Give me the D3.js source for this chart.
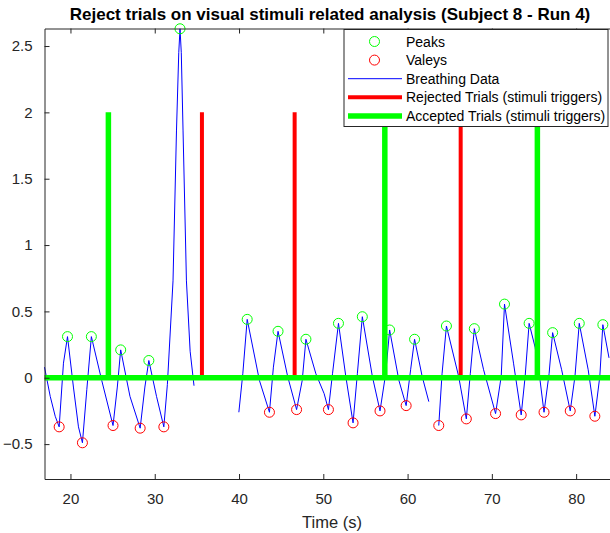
<!DOCTYPE html>
<html>
<head>
<meta charset="utf-8">
<script src="https://cdn.jsdelivr.net/npm/d3@7/dist/d3.min.js"></script>
<style>
  html, body { margin: 0; padding: 0; background: #fff; }
  svg { display: block; font-family: "Liberation Sans", Arial, sans-serif; }
</style>
</head>
<body>
<svg id="chart" width="610" height="533"></svg>
<script>
// Breathing signal (time in s, amplitude); null marks a gap in the recording
const breathTime = [
  16.92, 17.6, 18.19, 18.66, 19.17, 19.65, 20.35, 20.95, 21.42, 21.94, 22.48,
  23.71, 25.05, 25.56, 25.96, 27.06, 28.27, 28.83, 29.30, 30.21, 31.08, 31.5,
  32.17, 32.58, 32.85, 33.0, 33.15, 33.36, 33.76, 34.2, 34.66,
  null,
  39.98, 40.45, 40.97, 42.42, 43.61, 44.08, 44.63, 45.77, 46.83, 47.5, 47.94,
  49.12, 50.1, 50.61, 51.09, 51.80, 52.67, 53.53, 54.04, 54.63, 55.82, 56.73,
  57.4, 57.87, 58.97, 59.83, 60.36, 60.83, 61.73, 62.52,
  null,
  63.70, 64.09, 64.61, 66.06, 66.97, 67.44, 67.92, 69.02, 70.44, 71.11, 71.50,
  72.57, 73.48, 73.95, 74.42, 75.13, 75.72, 76.19, 76.79, 77.21, 78.28, 79.30,
  79.86, 80.37, 81.43, 82.22, 82.81, 83.17, 83.9
];
const breathValue = [
  0.08, -0.14, -0.29, -0.37, 0.11, 0.31, -0.07, -0.37, -0.49, -0.09, 0.31,
  -0.02, -0.36, -0.07, 0.21, -0.14, -0.38, -0.07, 0.13, -0.14, -0.37, -0.05,
  0.73, 1.86, 2.45, 2.63, 2.45, 1.86, 0.73, 0.2, -0.06,
  null,
  -0.26, 0.03, 0.44, -0.02, -0.26, 0.08, 0.35, 0.01, -0.24, -0.02, 0.29,
  0.03, -0.12, -0.24, 0.03, 0.41, 0.01, -0.34, 0.03, 0.46, 0.01, -0.25,
  0.03, 0.36, -0.02, -0.21, 0.06, 0.29, 0.01, -0.18,
  null,
  -0.36, 0.03, 0.39, 0.01, -0.31, 0.03, 0.37, 0.06, -0.27, 0.01, 0.555,
  0.11, -0.28, 0.01, 0.41, 0.23, -0.02, -0.26, 0.03, 0.34, 0.06, -0.25,
  0.01, 0.41, 0.06, -0.29, 0.01, 0.40, 0.15
];

// Detected peaks and valleys
const peakTime   = [19.65, 22.48, 25.96, 29.30, 33.0, 40.97, 44.63, 47.94, 51.80, 54.63, 57.87, 60.83, 64.61, 67.92, 71.50, 74.42, 77.21, 80.37, 83.17];
const peakValue  = [0.31, 0.31, 0.21, 0.13, 2.63, 0.44, 0.35, 0.29, 0.41, 0.46, 0.36, 0.29, 0.39, 0.37, 0.555, 0.41, 0.34, 0.41, 0.40];
const valleyTime  = [18.66, 21.42, 25.05, 28.27, 31.08, 43.61, 46.83, 50.61, 53.53, 56.73, 59.83, 63.70, 66.97, 70.44, 73.48, 76.19, 79.30, 82.22];
const valleyValue = [-0.37, -0.49, -0.36, -0.38, -0.37, -0.26, -0.24, -0.24, -0.34, -0.25, -0.21, -0.36, -0.31, -0.27, -0.28, -0.26, -0.25, -0.29];

// Stimulus triggers
const rejectedTriggers = [35.6, 46.6, 66.3];
const acceptedTriggers = [24.5, 57.3, 75.4];
const triggerLevel = 2;

const xTicks = [20, 30, 40, 50, 60, 70, 80];
const yTicks = [-0.5, 0, 0.5, 1, 1.5, 2, 2.5];
const xDomain = [16.92, 84.2];
const yDomain = [-0.763, 2.632];

const legendLabels = ["Peaks", "Valeys", "Breathing Data", "Rejected Trials (stimuli triggers)", "Accepted Trials (stimuli triggers)"];

const svg = d3.select("#chart");
const plot = { left: 44.5, top: 28.5, bottom: 479 };
const x = d3.scaleLinear().domain(xDomain).range([plot.left, plot.left + (xDomain[1] - xDomain[0]) * 8.428]);
const y = d3.scaleLinear().domain(yDomain).range([plot.bottom, plot.top]);
const axisColor = "#262626";

// Title
svg.append("text")
  .attr("x", 330).attr("y", 20)
  .attr("text-anchor", "middle")
  .attr("font-size", "17px").attr("font-weight", "bold")
  .attr("fill", "#000")
  .text("Reject trials on visual stimuli related analysis (Subject 8 - Run 4)");

// Breathing line
const breath = breathTime.map((t, i) => ({ t, v: breathValue[i] }));
svg.append("path")
  .datum(breath)
  .attr("fill", "none")
  .attr("stroke", "#0000ff")
  .attr("stroke-width", 1)
  .attr("d", d3.line().defined(d => d.t !== null && d.v !== null).x(d => x(d.t)).y(d => y(d.v)));

// Peak and valley markers
svg.append("g").selectAll("circle")
  .data(peakTime.map((t, i) => ({ t, v: peakValue[i] })))
  .join("circle")
  .attr("cx", d => x(d.t)).attr("cy", d => y(d.v)).attr("r", 5)
  .attr("fill", "none").attr("stroke", "#00ff00").attr("stroke-width", 1);
svg.append("g").selectAll("circle")
  .data(valleyTime.map((t, i) => ({ t, v: valleyValue[i] })))
  .join("circle")
  .attr("cx", d => x(d.t)).attr("cy", d => y(d.v)).attr("r", 5)
  .attr("fill", "none").attr("stroke", "#ff0000").attr("stroke-width", 1);

// Rejected triggers
svg.append("g").selectAll("line")
  .data(rejectedTriggers)
  .join("line")
  .attr("x1", d => x(d)).attr("x2", d => x(d))
  .attr("y1", y(0)).attr("y2", y(triggerLevel))
  .attr("stroke", "#ff0000").attr("stroke-width", 4);

// Accepted trigger signal: baseline with spikes
const accepted = [{ t: xDomain[0], v: 0 }];
acceptedTriggers.forEach(t => {
  accepted.push({ t, v: 0 }, { t, v: triggerLevel }, { t, v: 0 });
});
accepted.push({ t: xDomain[1], v: 0 });
svg.append("path")
  .datum(accepted)
  .attr("fill", "none")
  .attr("stroke", "#00ff00")
  .attr("stroke-width", 5.5)
  .attr("stroke-linejoin", "miter")
  .attr("d", d3.line().x(d => x(d.t)).y(d => y(d.v)));

// Axes
const xAxis = d3.axisBottom(x).tickValues(xTicks).tickSizeInner(-5).tickSizeOuter(0).tickPadding(14);
const gx = svg.append("g").attr("transform", `translate(0,${plot.bottom})`).call(xAxis);
gx.select(".domain").attr("stroke", axisColor);
gx.selectAll(".tick line").attr("stroke", axisColor);
gx.selectAll("text").attr("fill", axisColor).attr("font-size", "15px")
  .attr("font-family", "Liberation Sans, Arial, sans-serif");

const xTop = d3.axisTop(x).tickValues(xTicks).tickSizeInner(-5).tickSizeOuter(0).tickFormat("");
const gxt = svg.append("g").attr("transform", `translate(0,${plot.top})`).call(xTop);
gxt.select(".domain").attr("stroke", axisColor);
gxt.selectAll(".tick line").attr("stroke", axisColor);

const yAxis = d3.axisLeft(y).tickValues(yTicks).tickSizeInner(-5).tickSizeOuter(0).tickPadding(12)
  .tickFormat(d3.format("~g"));
const gy = svg.append("g").attr("transform", `translate(${plot.left},0)`).call(yAxis);
gy.select(".domain").attr("stroke", axisColor);
gy.selectAll(".tick line").attr("stroke", axisColor);
gy.selectAll("text").attr("fill", axisColor).attr("font-size", "15px")
  .attr("font-family", "Liberation Sans, Arial, sans-serif");

// X axis label
svg.append("text")
  .attr("x", 332).attr("y", 528)
  .attr("text-anchor", "middle")
  .attr("font-size", "16.5px")
  .attr("fill", axisColor)
  .text("Time (s)");

// Legend
const lg = svg.append("g").attr("transform", "translate(344,29.5)");
lg.append("rect")
  .attr("width", 264).attr("height", 97)
  .attr("fill", "#fff").attr("stroke", axisColor).attr("stroke-width", 1);
const rowY = i => 12 + i * 18.6;
legendLabels.forEach((label, i) => {
  const row = lg.append("g").attr("transform", `translate(0,${rowY(i)})`);
  if (i < 2) {
    row.append("circle").attr("cx", 30.5).attr("cy", 0).attr("r", 5)
      .attr("fill", "none").attr("stroke", i === 0 ? "#00ff00" : "#ff0000").attr("stroke-width", 1);
  } else {
    const colour = i === 2 ? "#0000ff" : i === 3 ? "#ff0000" : "#00ff00";
    const width = i === 2 ? 1 : i === 3 ? 4 : 5.5;
    row.append("line").attr("x1", 4).attr("x2", 58).attr("y1", 0).attr("y2", 0)
      .attr("stroke", colour).attr("stroke-width", width);
  }
  row.append("text").attr("x", 62).attr("y", 5)
    .attr("font-size", "14px").attr("fill", "#000")
    .text(label);
});
</script>
</body>
</html>
